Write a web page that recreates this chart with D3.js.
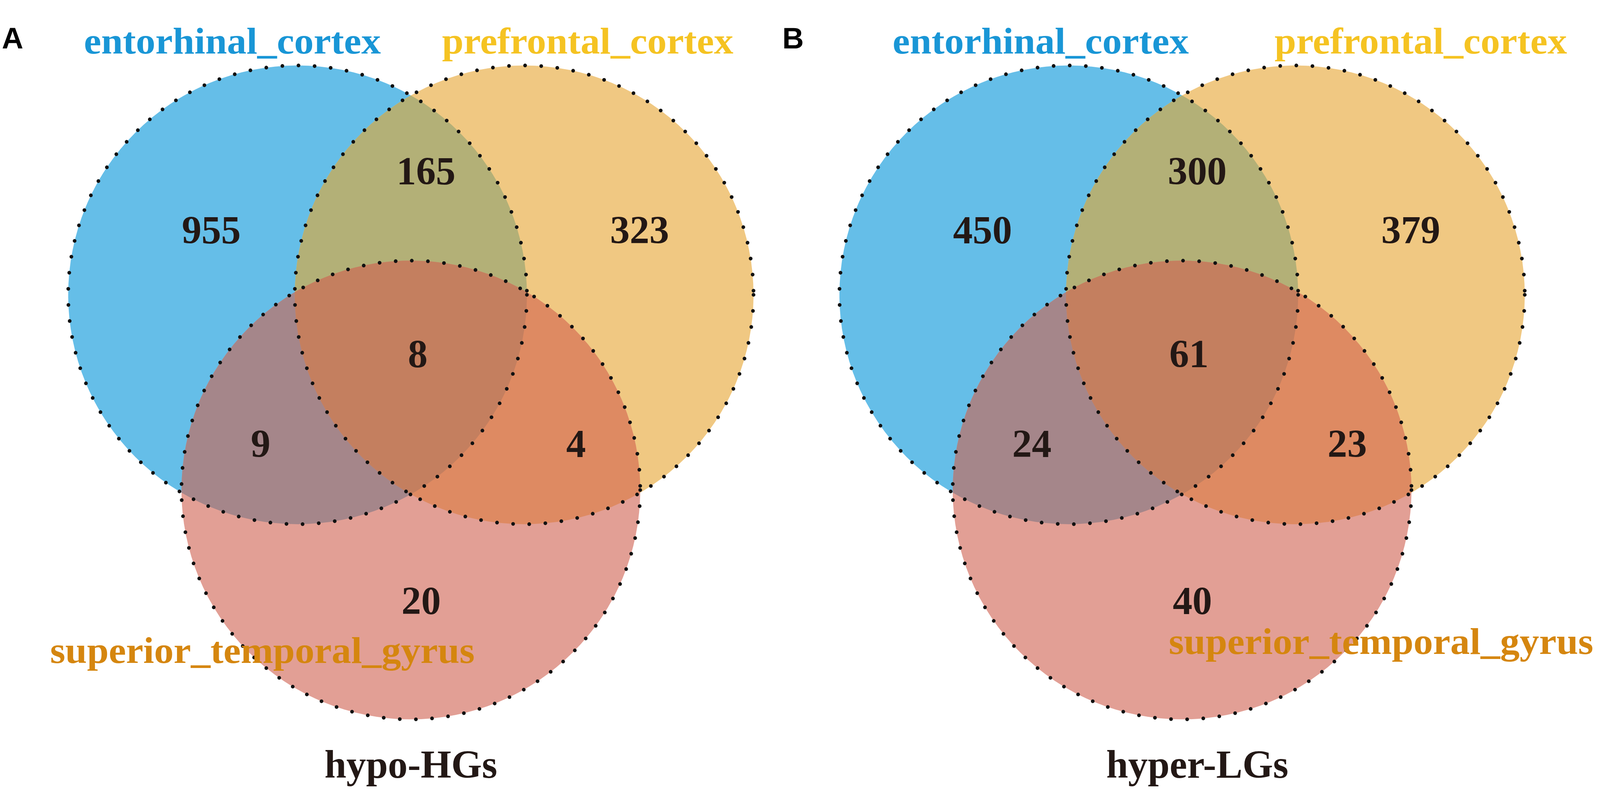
<!DOCTYPE html>
<html>
<head>
<meta charset="utf-8">
<script src="https://cdn.jsdelivr.net/npm/d3@7"></script>
<style>
  html, body { margin: 0; padding: 0; background: #fff; width: 100%; height: 100%; overflow: hidden; }
  svg { display: block; }
  .num { font-family: "Liberation Serif", "Times New Roman", serif; font-weight: bold; fill: #231815; }
  .setlab { font-family: "Liberation Serif", "Times New Roman", serif; font-weight: bold; }
  .panel { font-family: "Liberation Sans", Arial, sans-serif; font-weight: bold; fill: #000; }
</style>
</head>
<body>
<div id="chart"></div>
<script>
var width = 4311, height = 2071;

// sets and counts
var setNames = ["entorhinal_cortex", "prefrontal_cortex", "superior_temporal_gyrus"];
var panelLetters = ["A", "B"];
var panelTitles = ["hypo-HGs", "hyper-LGs"];
var regionKeys = ["E", "P", "S", "EP", "ES", "PS", "EPS"];
var countsA = [955, 323, 20, 165, 9, 4, 8];
var countsB = [450, 379, 40, 300, 24, 23, 61];

// colours
var setFill = { E: "#65bee8", P: "#f0c882", S: "#e29f95" };
var overlapFill = { EP: "#b3b077", ES: "#a5868a", PS: "#de8a62", EPS: "#c47f5f" };
var labelColor = ["#1996d6", "#f5c322", "#d5860f"];

// circle layout in unit coordinates (radius = 1)
var centres = { E: [-0.494, 0], P: [0.494, 0], S: [0, 0.851] };
var regionPos = {
    E: [-0.87, -0.225], P: [0.997, -0.225], S: [0.045, 1.392],
    EP: [0.066, -0.481], ES: [-0.655, 0.707], PS: [0.72, 0.707], EPS: [0.03, 0.316]
};

var radius = 618;
var panels = [
    { ox: 1107, letterX: 5, titleDx: 0,
      labels: [{ x: -881, y: 90, w: 800 }, { x: 84, y: 90, w: 785 }, { x: -972, y: 1732, w: 1144 }] },
    { ox: 3185, letterX: 2108, titleDx: 41,
      labels: [{ x: -780, y: 90, w: 798 }, { x: 249, y: 90, w: 788 }, { x: -36, y: 1708, w: 1144 }] }
];
var counts = [countsA, countsB];

var svg = d3.select("#chart").append("svg")
    .attr("viewBox", "0 0 " + width + " " + height)
    .style("width", "100vw")
    .style("height", "100vh");

var defs = svg.append("defs");

panels.forEach(function (p, pi) {
    var x = d3.scaleLinear().domain([-1, 1]).range([p.ox - radius, p.ox + radius]);
    var y = d3.scaleLinear().domain([-1, 1]).range([740 - radius, 740 + radius]);
    var r = d3.scaleLinear().domain([0, 1]).range([0, radius]);

    var g = svg.append("g");

    // clip paths, one per top set
    ["E", "P"].forEach(function (k) {
        defs.append("clipPath").attr("id", "clip" + pi + k)
            .append("circle")
            .attr("cx", x(centres[k][0]))
            .attr("cy", y(centres[k][1]))
            .attr("r", r(1));
    });

    function circle(sel, k) {
        return sel.append("circle")
            .attr("cx", x(centres[k][0]))
            .attr("cy", y(centres[k][1]))
            .attr("r", r(1));
    }

    // base circles
    ["E", "P", "S"].forEach(function (k) {
        circle(g, k).attr("fill", setFill[k]);
    });

    // overlaps
    circle(g.append("g").attr("clip-path", "url(#clip" + pi + "E)"), "P").attr("fill", overlapFill.EP);
    circle(g.append("g").attr("clip-path", "url(#clip" + pi + "E)"), "S").attr("fill", overlapFill.ES);
    circle(g.append("g").attr("clip-path", "url(#clip" + pi + "P)"), "S").attr("fill", overlapFill.PS);
    circle(g.append("g").attr("clip-path", "url(#clip" + pi + "P)")
        .append("g").attr("clip-path", "url(#clip" + pi + "E)"), "S").attr("fill", overlapFill.EPS);

    // dotted outlines
    ["E", "P", "S"].forEach(function (k) {
        circle(g, k)
            .attr("fill", "none")
            .attr("stroke", "#111")
            .attr("stroke-width", 10)
            .attr("stroke-linecap", "round")
            .attr("stroke-dasharray", "0 43.5");
    });

    // region counts
    g.selectAll("text.num")
        .data(regionKeys)
        .enter().append("text")
        .attr("class", "num")
        .attr("x", function (k) { return x(regionPos[k][0]); })
        .attr("y", function (k) { return y(regionPos[k][1]); })
        .attr("text-anchor", "middle")
        .style("font-size", "106px")
        .text(function (k, i) { return counts[pi][i]; });

    // set labels
    g.selectAll("text.setlab")
        .data(setNames)
        .enter().append("text")
        .attr("class", "setlab")
        .attr("x", function (d, i) { return p.ox + p.labels[i].x; })
        .attr("y", function (d, i) { return p.labels[i].y; })
        .attr("textLength", function (d, i) { return p.labels[i].w; })
        .attr("lengthAdjust", "spacingAndGlyphs")
        .style("font-size", "100px")
        .style("fill", function (d, i) { return labelColor[i]; })
        .text(function (d) { return d; });

    // panel title
    g.append("text")
        .attr("class", "num")
        .attr("x", p.ox + p.titleDx)
        .attr("y", 2041)
        .attr("text-anchor", "middle")
        .style("font-size", "106px")
        .text(panelTitles[pi]);

    // panel letter
    g.append("text")
        .attr("class", "panel")
        .attr("x", p.letterX)
        .attr("y", 76)
        .style("font-size", "80px")
        .text(panelLetters[pi]);
});
</script>
</body>
</html>
